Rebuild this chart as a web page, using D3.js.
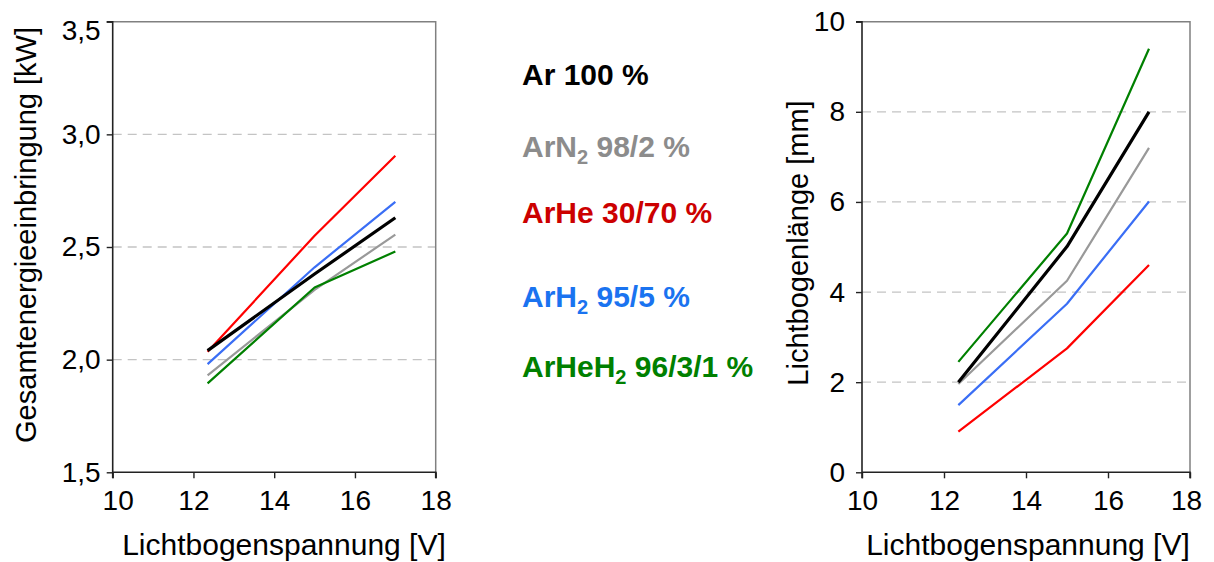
<!DOCTYPE html>
<html>
<head>
<meta charset="utf-8">
<script src="https://cdn.jsdelivr.net/npm/d3@7"></script>
<style>
  html, body { margin: 0; padding: 0; background: #fff; }
  svg { display: block; font-family: "Liberation Sans", Arial, sans-serif; }
</style>
</head>
<body>
<svg id="chart" width="1214" height="562"></svg>
<script>
// Arc voltage (V) at the three measured operating points
const voltage = [12.35, 15, 17];

// Shielding gas mixtures
const gases = ["Ar", "ArN2", "ArHe", "ArH2", "ArHeH2"];

// Total energy input [kW]
const energyAr     = [2.04, 2.38, 2.63];
const energyArN2   = [1.93, 2.31, 2.555];
const energyArHe   = [2.035, 2.55, 2.905];
const energyArH2   = [1.98, 2.41, 2.70];
const energyArHeH2 = [1.895, 2.32, 2.48];

// Arc length [mm]
const lengthAr     = [2.0, 5.01, 8.0];
const lengthArN2   = [1.96, 4.25, 7.2];
const lengthArHe   = [0.9, 2.75, 4.6];
const lengthArH2   = [1.49, 3.74, 6.01];
const lengthArHeH2 = [2.45, 5.3, 9.4];

// Tick values and labels
const xTicks = [10, 12, 14, 16, 18];
const energyTicks = [1.5, 2.0, 2.5, 3.0, 3.5];
const energyTickLabels = ["1,5", "2,0", "2,5", "3,0", "3,5"];
const energyGrid = [2.0, 2.5, 3.0];
const lengthTicks = [0, 2, 4, 6, 8, 10];
const lengthGrid = [2, 4, 6, 8];

// Legend entries: main text, subscript, remainder
const legendItems = [
  { gas: "Ar",     parts: ["Ar 100 %"] },
  { gas: "ArN2",   parts: ["ArN", "2", " 98/2 %"] },
  { gas: "ArHe",   parts: ["ArHe 30/70 %"] },
  { gas: "ArH2",   parts: ["ArH", "2", " 95/5 %"] },
  { gas: "ArHeH2", parts: ["ArHeH", "2", " 96/3/1 %"] }
];

const lineColor = { Ar: "#000000", ArN2: "#999999", ArHe: "#ff0000", ArH2: "#3a6ef5", ArHeH2: "#008000" };
const textColor = { Ar: "#000000", ArN2: "#8c8c8c", ArHe: "#cc0000", ArH2: "#1a73f0", ArHeH2: "#008000" };
const lineWidth = { Ar: 3.2, ArN2: 2.2, ArHe: 2.2, ArH2: 2.2, ArHeH2: 2.2 };

const svg = d3.select("#chart");
const FS = 28;

function panel(opts) {
  const g = svg.append("g");
  const x = d3.scaleLinear().domain([10, 18]).range([opts.left, opts.right]);
  const y = d3.scaleLinear().domain(opts.yDomain).range([opts.bottom, opts.top]);

  // dashed grid lines
  g.selectAll("line.grid").data(opts.grid).join("line")
    .attr("x1", opts.left).attr("x2", opts.right)
    .attr("y1", d => y(d)).attr("y2", d => y(d))
    .attr("stroke", "#c4c4c4").attr("stroke-width", 1.3)
    .attr("stroke-dasharray", "9,6");

  // frame (top and right)
  g.append("path")
    .attr("d", `M${opts.left},${opts.top}H${opts.right}V${opts.bottom}`)
    .attr("fill", "none").attr("stroke", "#808080").attr("stroke-width", 1.5);

  // series lines
  const line = d3.line().x((d, i) => x(voltage[i])).y(d => y(d));
  const order = ["ArN2", "ArHeH2", "ArH2", "ArHe", "Ar"];
  order.forEach(k => {
    g.append("path").datum(opts.series[k])
      .attr("d", line)
      .attr("fill", "none")
      .attr("stroke", lineColor[k])
      .attr("stroke-width", lineWidth[k])
      .attr("stroke-linejoin", "round");
  });

  // axes
  const yAxis = d3.axisLeft(y).tickValues(opts.yTicks).tickSize(6).tickPadding(opts.yPad)
    .tickFormat(opts.yFormat);
  const ya = g.append("g").attr("transform", `translate(${opts.left},0)`).call(yAxis);
  const xAxis = d3.axisBottom(x).tickValues(xTicks).tickSize(6).tickPadding(12).tickFormat(d3.format("d"));
  const xa = g.append("g").attr("transform", `translate(0,${opts.bottom})`).call(xAxis);

  [ya, xa].forEach(a => {
    a.select(".domain").attr("stroke", "#222").attr("stroke-width", 1.6);
    a.selectAll(".tick line").attr("stroke", "#222").attr("stroke-width", 1.4);
    a.selectAll("text").attr("font-size", FS).attr("fill", "#000")
      .attr("font-family", "'Liberation Sans', Arial, sans-serif");
  });
  ya.select(".domain").attr("d", `M${-0},${opts.bottom + 6}V${opts.top}H-6`);
  xa.select(".domain").attr("d", `M${opts.left},0H${opts.right}V6`);
  xa.selectAll(".tick text").attr("dy", "0.71em");
  if (opts.adjust) opts.adjust(ya, xa);

  // axis titles
  g.append("text")
    .attr("x", opts.xTitleX).attr("y", 555)
    .attr("text-anchor", "middle").attr("font-size", 30)
    .text("Lichtbogenspannung [V]");
  g.append("text")
    .attr("transform", `translate(${opts.yTitleX},${opts.yTitleY}) rotate(-90)`)
    .attr("text-anchor", "middle").attr("font-size", 29)
    .text(opts.yTitle);
}

panel({
  left: 112.7, right: 435.7, top: 21.7, bottom: 472.3,
  yDomain: [1.5, 3.5], yTicks: energyTicks, grid: energyGrid, yPad: 6,
  yFormat: (d, i) => energyTickLabels[i],
  series: { Ar: energyAr, ArN2: energyArN2, ArHe: energyArHe, ArH2: energyArH2, ArHeH2: energyArHeH2 },
  xTitleX: 284, yTitleX: 36, yTitleY: 235,
  yTitle: "Gesamtenergieeinbringung [kW]",
  adjust: (ya, xa) => {
    ya.selectAll(".tick text").filter(d => d === 3.5).attr("dy", "0.62em");
    xa.selectAll(".tick text").filter(d => d === 10).attr("dx", 5);
  }
});

panel({
  left: 862, right: 1190, top: 21.7, bottom: 472.3,
  yDomain: [0, 10], yTicks: lengthTicks, grid: lengthGrid, yPad: 11,
  yFormat: d3.format("d"),
  series: { Ar: lengthAr, ArN2: lengthArN2, ArHe: lengthArHe, ArH2: lengthArH2, ArHeH2: lengthArHeH2 },
  xTitleX: 1028, yTitleX: 808, yTitleY: 243,
  yTitle: "Lichtbogenlänge [mm]",
  adjust: (ya, xa) => {
    xa.selectAll(".tick text").filter(d => d === 18).attr("dx", -4);
  }
});

// legend
const legendY = [85, 157, 223, 307, 377];
const legend = svg.append("g").attr("font-weight", "bold").attr("font-size", 30);
legendItems.forEach((item, i) => {
  const t = legend.append("text").attr("x", 522).attr("y", legendY[i]).attr("fill", textColor[item.gas]);
  item.parts.forEach((p, j) => {
    const span = t.append("tspan").text(p);
    if (item.parts.length === 3 && j === 1) {
      span.attr("font-size", 20).attr("dy", 7);
    } else if (item.parts.length === 3 && j === 2) {
      span.attr("dy", -7);
    }
  });
});
</script>
</body>
</html>
